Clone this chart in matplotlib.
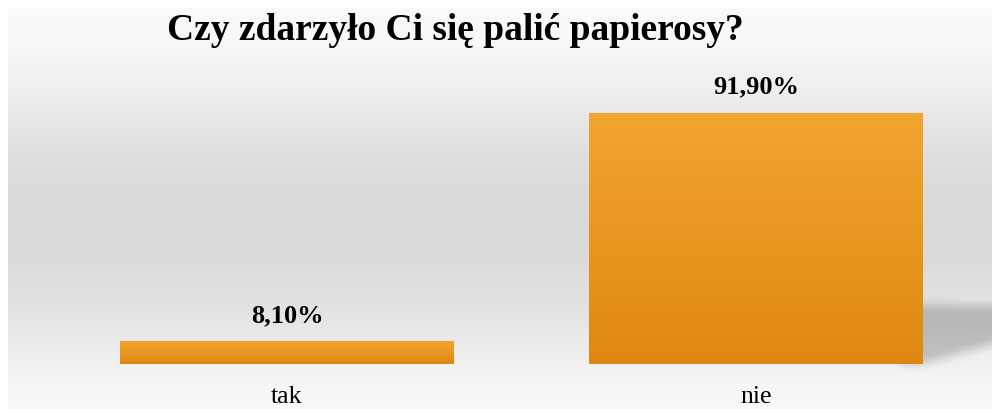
import numpy as np
import matplotlib
matplotlib.use("Agg")
import matplotlib.pyplot as plt
from matplotlib.path import Path

categories = ["tak", "nie"]
values = [8.10, 91.90]
value_labels = ["8,10%", "91,90%"]
title = "Czy zdarzyło Ci się palić papierosy?"

W, H, DPI = 992, 409, 100
fig = plt.figure(figsize=(W / DPI, H / DPI), dpi=DPI)
fig.patch.set_facecolor("white")

# background gradient (vertical)
bg = fig.add_axes([8 / W, 0, 1 - 8 / W, 1 - 8 / H], zorder=0)
stops_y = np.array([0, 42, 92, 142, 192, 242, 292, 342, 375, 401])
stops_v = np.array([0.98, 0.97, 0.925, 0.878, 0.851, 0.855, 0.882, 0.93, 0.965, 0.975])
yy = np.arange(401)
col = np.interp(yy, stops_y, stops_v)
img = np.repeat(col[:, None], 2, axis=1)
bg.imshow(np.dstack([img, img, img]), aspect="auto", extent=[0, 1, 0, 1], interpolation="bilinear")
bg.set_axis_off()

ax = fig.add_axes([0, 0, 1, 1], zorder=2)
ax.patch.set_alpha(0)
x = np.arange(len(categories))
xpx_per_unit = 469.0
ypx_per_unit = 2.73
base_px = 45.0
ax.set_xlim(-287 / xpx_per_unit, (W - 287) / xpx_per_unit)
ax.set_ylim(-base_px / ypx_per_unit, (H - base_px) / ypx_per_unit)
ax.set_axis_off()

bars = ax.bar(x, values, width=0.712, color="#e8961f", zorder=3)

# shadow behind the tall bar (blurred perspective shadow)
tall = bars[int(np.argmax(values))]
xr = tall.get_x() + tall.get_width()
poly_data = [(xr - 0.05, 0), (xr - 0.05, 21.8), (xr + 0.25, 20.8), (xr + 0.25, 12.5), (xr, 0)]
poly_px = ax.transData.transform(poly_data)
PAD = 40
gx, gy = np.meshgrid(np.arange(-PAD, W + PAD) + 0.5, np.arange(-PAD, H + PAD) + 0.5)
mask = Path(poly_px).contains_points(np.c_[gx.ravel(), gy.ravel()]).reshape(gy.shape).astype(float)
k = np.ones(9) / 9
for _ in range(3):
    mask = np.apply_along_axis(lambda r: np.convolve(r, k, mode="same"), 1, mask)
    mask = np.apply_along_axis(lambda c: np.convolve(c, k, mode="same"), 0, mask)
mask = mask[PAD:PAD + H, PAD:PAD + W]
rgba = np.zeros((H, W, 4))
rgba[..., 3] = mask * 0.2
sh = fig.add_axes([0, 0, 1, 1], zorder=1)
sh.imshow(rgba[::-1], extent=[0, W, 0, H], aspect="auto", origin="upper", interpolation="nearest")
sh.set_xlim(0, W); sh.set_ylim(0, H)
sh.set_axis_off()

# vertical gradient fill on bars
for b in bars:
    grad = np.linspace(0, 1, 64)[:, None]
    top = np.array([0.949, 0.647, 0.184])
    bot = np.array([0.875, 0.533, 0.063])
    g = top[None, None, :] * (1 - grad[..., None]) + bot[None, None, :] * grad[..., None]
    g = np.repeat(g, 2, axis=1)
    ax.imshow(g, extent=[b.get_x(), b.get_x() + b.get_width(), 0, b.get_height()],
              aspect="auto", zorder=4, interpolation="bilinear")

ax.set_xlim(-287 / xpx_per_unit, (W - 287) / xpx_per_unit)
ax.set_ylim(-base_px / ypx_per_unit, (H - base_px) / ypx_per_unit)

serif = ["Liberation Serif", "DejaVu Serif"]
for xi, v, lab in zip(x, values, value_labels):
    ax.text(xi, v + 5.5, lab, ha="center", va="bottom", fontsize=19, fontweight="bold",
            family=serif, zorder=5)
for xi, c in zip(x, categories):
    ax.text(xi, -12.0, c, ha="center", va="center", fontsize=18.5, family=serif, zorder=5)

fig.text(455 / W, 1 - 31 / H, title, ha="center", va="center", fontsize=27,
         fontweight="bold", family=serif, zorder=5)

fig.savefig("out.png", dpi=DPI)
